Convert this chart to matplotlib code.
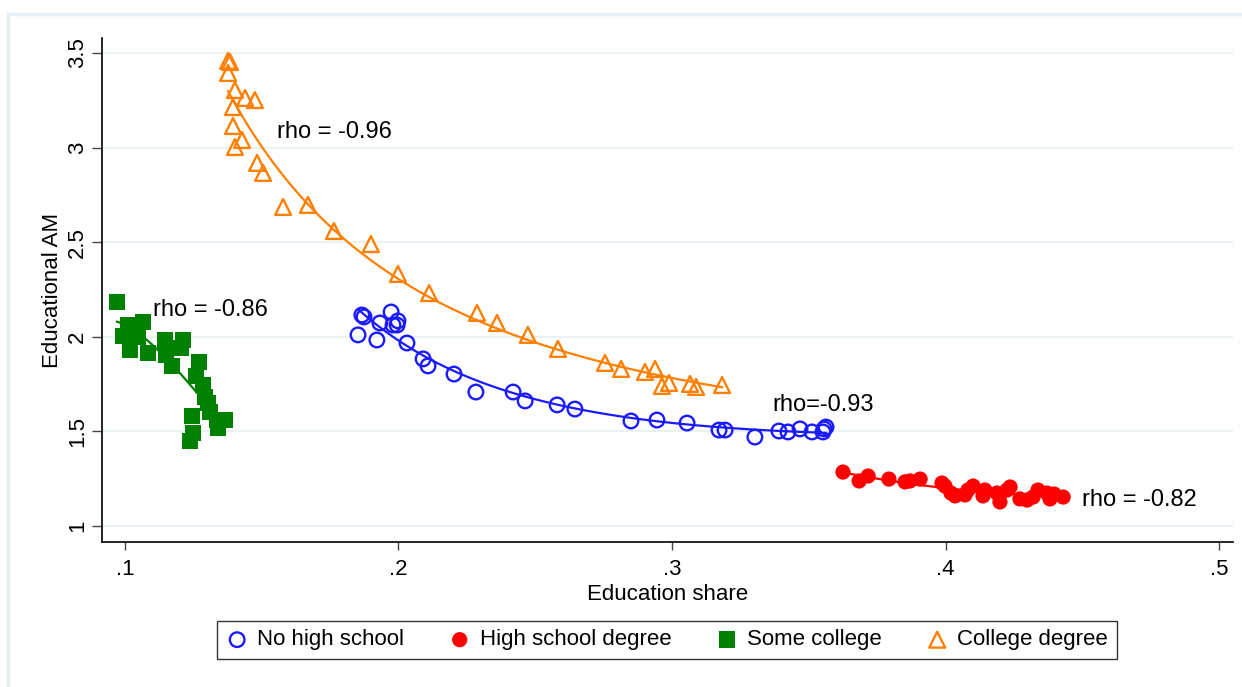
import numpy as np
import matplotlib
matplotlib.use("Agg")
import matplotlib.pyplot as plt
from matplotlib.patches import Rectangle

plt.rcParams["font.family"] = ["Liberation Sans", "DejaVu Sans"]

# No high school
nohs_x = [0.1852, 0.1866, 0.1874, 0.1921, 0.1932, 0.1973, 0.1980, 0.1995, 0.1998, 0.2031,
          0.2090, 0.2108, 0.2203, 0.2283, 0.2419, 0.2463, 0.2580, 0.2645, 0.2850, 0.2945,
          0.3055, 0.3172, 0.3194, 0.3303, 0.3391, 0.3424, 0.3468, 0.3512, 0.3552, 0.3556, 0.3563]
nohs_y = [2.010, 2.115, 2.105, 1.983, 2.073, 2.131, 2.062, 2.062, 2.084, 1.967,
          1.883, 1.846, 1.803, 1.708, 1.708, 1.661, 1.640, 1.618, 1.555, 1.560,
          1.544, 1.507, 1.507, 1.470, 1.502, 1.497, 1.513, 1.497, 1.497, 1.513, 1.523]

# High school degree
hs_x = [0.3625, 0.3684, 0.3717, 0.3793, 0.3852, 0.3870, 0.3907, 0.3987, 0.3998, 0.4020,
        0.4035, 0.4071, 0.4082, 0.4101, 0.4137, 0.4144, 0.4188, 0.4199, 0.4225, 0.4236,
        0.4272, 0.4298, 0.4320, 0.4338, 0.4371, 0.4382, 0.4397, 0.4430]
hs_y = [1.285, 1.238, 1.264, 1.248, 1.233, 1.238, 1.248, 1.227, 1.211, 1.174,
        1.159, 1.164, 1.190, 1.211, 1.159, 1.190, 1.174, 1.127, 1.190, 1.206,
        1.143, 1.137, 1.153, 1.190, 1.174, 1.143, 1.169, 1.153]

# Some college
sc_x = [0.0971, 0.1011, 0.1066, 0.0993, 0.1048, 0.1018, 0.1146, 0.1212, 0.1205, 0.1084,
        0.1150, 0.1172, 0.1271, 0.1260, 0.1285, 0.1293, 0.1303, 0.1245, 0.1311, 0.1336,
        0.1366, 0.1340, 0.1249, 0.1238]
sc_y = [2.184, 2.062, 2.078, 2.004, 1.999, 1.930, 1.983, 1.983, 1.941, 1.914,
        1.904, 1.846, 1.867, 1.793, 1.745, 1.682, 1.650, 1.581, 1.603, 1.560,
        1.560, 1.518, 1.492, 1.449]

# College degree
col_x = [0.1377, 0.1384, 0.1377, 0.1402, 0.1439, 0.1475, 0.1395, 0.1395, 0.1428, 0.1402,
         0.1483, 0.1505, 0.1578, 0.1669, 0.1764, 0.1899, 0.1998, 0.2112, 0.2287, 0.2360,
         0.2473, 0.2583, 0.2755, 0.2814, 0.2901, 0.2938, 0.2963, 0.2989, 0.3066, 0.3088, 0.3183]
col_y = [3.458, 3.452, 3.394, 3.304, 3.262, 3.251, 3.214, 3.114, 3.040, 3.003,
         2.919, 2.866, 2.686, 2.697, 2.559, 2.490, 2.332, 2.231, 2.126, 2.073,
         2.010, 1.936, 1.862, 1.830, 1.814, 1.830, 1.740, 1.756, 1.751, 1.735, 1.745]

series_names = ["No high school", "High school degree", "Some college", "College degree"]
rho_labels = ["rho=-0.93", "rho = -0.82", "rho = -0.86", "rho = -0.96"]

xticks = [0.1, 0.2, 0.3, 0.4, 0.5]
xtick_labels = [".1", ".2", ".3", ".4", ".5"]
yticks = [1, 1.5, 2, 2.5, 3, 3.5]
ytick_labels = ["1", "1.5", "2", "2.5", "3", "3.5"]

grid_col = "#eaf2f3"
FS = 16

fig = plt.figure(figsize=(12.42, 6.87), dpi=100)
# light outer frame of the graph region (runs off the right and bottom edges)
fig.patches.append(Rectangle((8 / 1242, -20 / 687), 1260 / 1242, 693 / 687,
                             transform=fig.transFigure, fill=False,
                             edgecolor="#e6eef1", lw=2.5))
ax = fig.add_axes([102 / 1242, 145 / 687, 1131 / 1242, 504 / 687])


def fit_line(x, y, color):
    # quadratic in 1/x gives the smooth decreasing curve
    x = np.asarray(x)
    coef = np.polyfit(1 / x, y, 2)
    xs = np.linspace(x.min(), x.max(), 100)
    ax.plot(xs, np.polyval(coef, 1 / xs), color=color, lw=1.6, zorder=2)


styles = [
    dict(x=nohs_x, y=nohs_y, color="#1a1aff", marker="o", fill=False, s=110),
    dict(x=hs_x, y=hs_y, color="#ff0000", marker="o", fill=True, s=120),
    dict(x=sc_x, y=sc_y, color="#008000", marker="s", fill=True, s=140),
    dict(x=col_x, y=col_y, color="#ff7f00", marker="^", fill=False, s=130),
]

handles = []
for st, name in zip(styles, series_names):
    if st["fill"]:
        h = ax.scatter(st["x"], st["y"], s=st["s"], marker=st["marker"],
                       color=st["color"], edgecolors="none", zorder=3, label=name)
    else:
        h = ax.scatter(st["x"], st["y"], s=st["s"], marker=st["marker"],
                       facecolors="none", edgecolors=st["color"], linewidths=1.7,
                       zorder=3, label=name)
    handles.append(h)
    fit_line(st["x"], st["y"], st["color"])

# correlation notes
rho_pos = [(0.3366, 1.640), (0.4499, 1.137), (0.1102, 2.142), (0.1556, 3.083)]
for (tx, ty), txt in zip(rho_pos, rho_labels):
    ax.text(tx, ty, txt, fontsize=17, va="center", ha="left", color="black")

ax.set_xlim(0.0916, 0.5051)
ax.set_ylim(0.9154, 3.579)
ax.set_xticks(xticks)
ax.set_xticklabels(xtick_labels, fontsize=FS)
ax.set_yticks(yticks)
ax.set_yticklabels(ytick_labels, fontsize=FS, rotation=90, va="center")
ax.tick_params(axis="x", length=6, width=1, color="#444444", pad=6)
ax.tick_params(axis="y", length=7, width=1, color="#444444", pad=3)
ax.grid(True, axis="y", color=grid_col, lw=1.5)
ax.set_axisbelow(True)
for side in ["top", "right"]:
    ax.spines[side].set_visible(False)
for side in ["left", "bottom"]:
    ax.spines[side].set_linewidth(1.2)
ax.set_xlabel("Education share", fontsize=FS, labelpad=3)
ax.set_ylabel("Educational AM", fontsize=FS, labelpad=3)

leg = fig.legend(handles=handles, labels=series_names, loc="center", ncol=4,
                 bbox_to_anchor=(667 / 1242, 1 - 640 / 687), fontsize=FS,
                 frameon=True, fancybox=False, edgecolor="black",
                 handletextpad=0.4, columnspacing=2.0, handlelength=1.0,
                 borderpad=0.4)
leg.get_frame().set_linewidth(1.0)

fig.savefig("out.png", dpi=100, facecolor="white")
